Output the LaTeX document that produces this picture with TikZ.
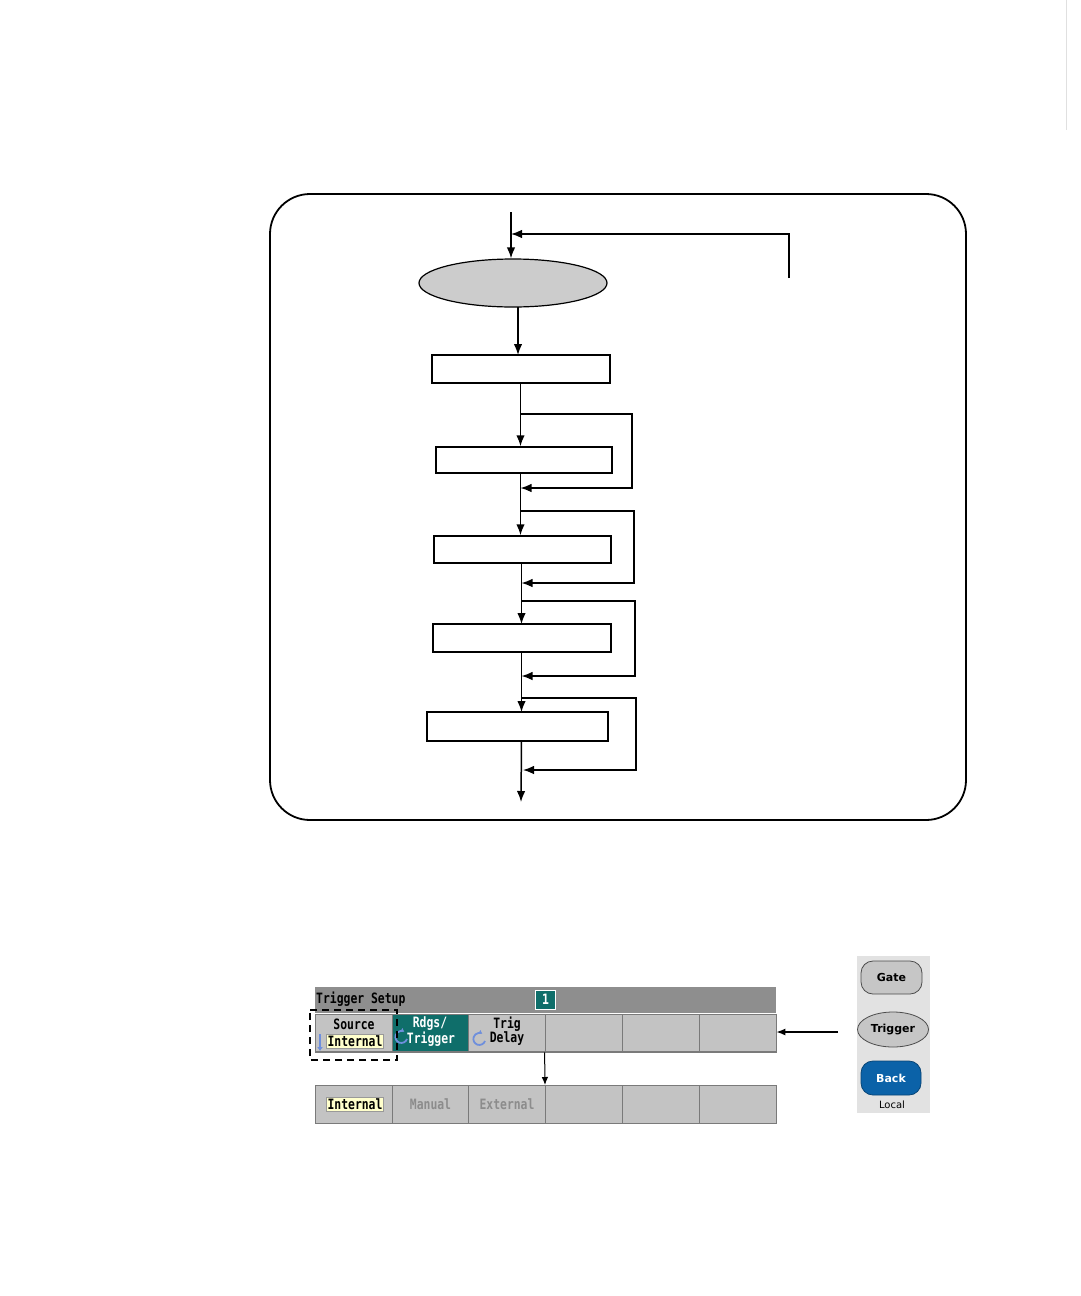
\documentclass[tikz,border=0pt]{standalone}
\usepackage{fontspec}
\usepackage{graphicx}
\newfontfamily\scr{DejaVu Sans Mono}
\newfontfamily\btn{DejaVu Sans}
\usetikzlibrary{arrows.meta,shapes.geometric}
\definecolor{teal1}{HTML}{0F6E6A}
\definecolor{keyg}{HTML}{C3C3C3}
\definecolor{hdrg}{HTML}{8E8E8E}
\definecolor{sepg}{HTML}{7A7A7A}
\definecolor{pale}{HTML}{FFFFCC}
\definecolor{iconb}{HTML}{6E8FDC}
\definecolor{panelg}{HTML}{E2E2E2}
\definecolor{btng}{HTML}{C6C6C6}
\definecolor{backb}{HTML}{0B62A8}
\definecolor{elg}{HTML}{CCCCCC}
\newcommand{\stxt}[1]{\scalebox{1}[1.25]{\scr\bfseries\fontsize{11.4}{12}\selectfont #1}}
\tikzset{
  arr/.style={line width=1.5pt,-{Latex[length=11pt,width=8.5pt]}},
  loopl/.style={line width=1.3pt,-{Latex[length=11pt,width=8.5pt]}},
  fbox/.style={draw,line width=1.5pt,inner sep=0pt},
  key/.style={draw=sepg,line width=0.8pt,fill=keyg,minimum width=77pt,minimum height=38pt,inner sep=0pt,align=center},
  tealkey/.style={key,fill=teal1,text=white},
  pbtn/.style={draw=black!70,line width=0.8pt,fill=btng,rounded corners=12pt,inner sep=0pt,font=\btn\bfseries\fontsize{11}{11}\selectfont},
  pale box/.style={fill=pale,draw=black!40,line width=0.4pt,inner xsep=1pt,inner ysep=1.5pt},
}
\begin{document}
\begin{tikzpicture}[x=1pt,y=-1pt]
\useasboundingbox (0,0) rectangle (1080,1296);
\fill[white] (0,0) rectangle (1080,1296);
% faint page line
\draw[black!12,line width=1pt] (1066,0) -- (1066,130);
% outer rounded frame
\draw[line width=1.8pt,rounded corners=40pt] (270,194) rectangle (966,820);
% flowchart
\coordinate (in) at (511,212);
\coordinate (fb) at (789,278);
\coordinate (fx) at (520.5,0);
\node[ellipse,draw,line width=1.2pt,fill=elg,minimum width=188pt,minimum height=48pt,inner sep=0pt] (el) at (513,283) {};
\node[fbox,minimum width=178pt,minimum height=28pt] (b1) at (521,369) {};
\node[fbox,minimum width=176pt,minimum height=26pt] (b2) at (524,460) {};
\node[fbox,minimum width=177pt,minimum height=27pt] (b3) at (522.5,549.5) {};
\node[fbox,minimum width=178pt,minimum height=28pt] (b4) at (522,638) {};
\node[fbox,minimum width=181pt,minimum height=29pt] (b5) at (517.5,726.5) {};
\coordinate (out) at (521,802);
\draw[arr] (in) -- (in |- el.north);
\draw[loopl] (fb) |- (in |- 0,234);
\draw[arr] (518,307) -- (518,355);
\draw[arr] (fx |- b1.south) -- (fx |- b2.north);
\draw[loopl] (fx |- 0,414) -| (632,488) -- (fx |- 0,488);
\draw[arr] (fx |- b2.south) -- (fx |- b3.north);
\draw[loopl] (fx |- 0,511) -| (634,583) -- (521.5,583);
\draw[arr] (521.5,563) -- (521.5,624);
\draw[loopl] (521.5,601) -| (635,676) -- (521.5,676);
\draw[arr] (521.5,652) -- (521.5,712);
\draw[loopl] (521.5,698) -| (636,770) -- (523,770);
\draw[arr] (521.5,741) -- (out);
% screen header
\fill[hdrg] (315,987) rectangle (776,1013);
\node[anchor=west,inner sep=0pt] (hdr) at (316,999) {\stxt{Trigger Setup}};
\node[draw=white,line width=1pt,fill=teal1,text=white,minimum width=20pt,minimum height=19pt,inner sep=0pt] (ch) at (545.5,999.5) {\stxt{1}};
% softkeys row 1
\node[key] (k1) at (353.5,1033) {};
\node[tealkey] (k2) at (430.5,1033) {};
\node[key] (k3) at (507,1033) {};
\node[key] (k4) at (583.5,1033) {};
\node[key] (k5) at (660.5,1033) {};
\node[key] (k6) at (737.5,1033) {};
\draw[sepg,line width=2pt] (315,1052) -- (776,1052);
\node[inner sep=0pt,text=white] (rdg1) at (430,1024) {\stxt{Rdgs/}};
\node[inner sep=0pt,text=white] (rdg2) at (431,1039) {\stxt{Trigger}};
\node[inner sep=0pt] (td1) at (507,1024) {\stxt{Trig}};
\node[inner sep=0pt] (td2) at (507,1039) {\stxt{Delay}};
\node[inner sep=0pt] (src) at (354,1024) {\stxt{Source}};
\node[pale box] (int1) at (355,1041) {\stxt{Internal}};
\draw[iconb,line width=1.8pt,-{Latex[length=4pt,width=6pt]}] (320,1034) -- (320,1051);
\draw[iconb,line width=1.8pt,-{Latex[length=3.5pt,width=5pt]}] (407,1039) arc (20:300:6);
\draw[iconb,line width=1.8pt,-{Latex[length=3.5pt,width=5pt]}] (485,1041) arc (20:300:6);
% dashed selection
\draw[dash pattern=on 7pt off 5pt,line width=1.5pt] (310,1010) -| (397,1060) -| (310,1010);
% arrow to row 2
\draw[line width=1pt,-{Latex[length=8pt,width=6.5pt]}] (k4.south west) -- (545,1085);
% softkeys row 2
\node[key] (m1) at (353.5,1104.5) {};
\node[key,text=black!45] (m2) at (430.5,1104.5) {\stxt{Manual}};
\node[key,text=black!45] (m3) at (507,1104.5) {\stxt{External}};
\node[key] (m4) at (583.5,1104.5) {};
\node[key] (m5) at (660.5,1104.5) {};
\node[key] (m6) at (737.5,1104.5) {};
\node[pale box] (int2) at (355,1104.5) {\stxt{Internal}};
% front panel buttons
\node[fill=panelg,minimum width=73pt,minimum height=157pt,inner sep=0pt] (panel) at (893.5,1034.5) {};
\node[pbtn,minimum width=61pt,minimum height=33pt] (gate) at (891.5,977.5) {Gate};
\node[ellipse,draw=black!70,line width=0.8pt,fill=btng,minimum width=71pt,minimum height=35pt,inner sep=0pt,font=\btn\bfseries\fontsize{11}{11}\selectfont] (trig) at (893,1029.5) {Trigger};
\node[pbtn,draw=backb!70!black,fill=backb,text=white,minimum width=60pt,minimum height=34pt] (back) at (891,1078) {Back};
\node[font=\btn\fontsize{10}{10}\selectfont,inner sep=0pt] (local) at (892,1105) {Local};
\draw[line width=1.3pt,-{Latex[length=9pt,width=7pt]}] (838,1032) -- (k6.east |- 0,1032);
\end{tikzpicture}
\end{document}
